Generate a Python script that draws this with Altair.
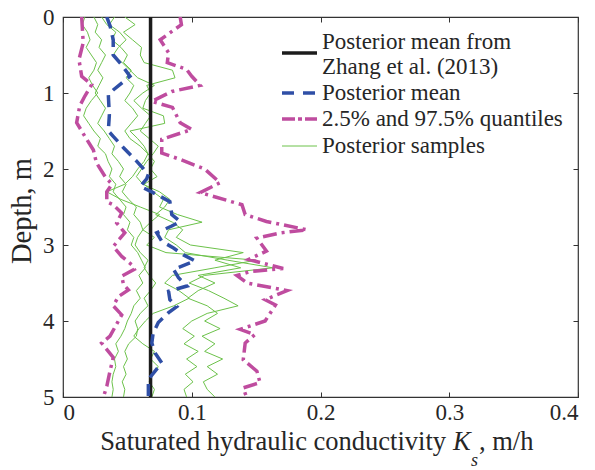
import altair as alt
import pandas as pd

SERIF = "Liberation Serif"

X_TICKS = [0, 0.1, 0.2, 0.3, 0.4]
Y_TICKS = [0, 1, 2, 3, 4, 5]

ZHANG_MEAN = [0.068]

MEAN_DEPTH = [0.0, 0.12, 0.3, 0.5, 0.63, 0.78, 0.87, 0.96, 1.02, 1.29, 1.5, 1.57, 1.72, 1.9,
              2.07, 2.13, 2.23, 2.29, 2.36, 2.43, 2.6, 2.69, 2.75, 2.84, 2.95, 3.04, 3.13, 3.21,
              3.32, 3.43, 3.54, 3.61, 3.72, 3.81, 3.89, 4.02, 4.16, 4.29, 4.42, 4.55, 4.66, 4.77, 5.0]
MEAN_K = [0.034, 0.0366, 0.039, 0.039, 0.0456, 0.052, 0.0456, 0.039, 0.0352, 0.036, 0.0352, 0.039,
          0.047, 0.0573, 0.0663, 0.065, 0.060, 0.0677, 0.0754, 0.083, 0.0845, 0.091, 0.0845, 0.0728,
          0.0767, 0.0858, 0.0936, 0.1026, 0.0858, 0.0897, 0.0962, 0.082, 0.083, 0.0884, 0.082, 0.074,
          0.070, 0.069, 0.0715, 0.0767, 0.0715, 0.0663, 0.0663]

LOW_DEPTH = [0.0, 0.34, 0.56, 0.78, 0.89, 1.04, 1.17, 1.39, 1.57, 1.75, 1.92, 2.1, 2.2, 2.3, 2.43,
             2.47, 2.58, 2.71, 2.84, 3.02, 3.15, 3.26, 3.32, 3.41, 3.52, 3.59, 3.68, 3.8, 3.92, 4.2,
             4.29, 4.48, 4.66, 4.86, 5.0]
LOW_K = [0.0145, 0.0157, 0.0124, 0.0145, 0.0223, 0.017, 0.013, 0.0106, 0.017, 0.0236, 0.026, 0.0327,
         0.038, 0.034, 0.034, 0.039, 0.0456, 0.0417, 0.048, 0.039, 0.0456, 0.0534, 0.0554, 0.0456,
         0.047, 0.0508, 0.043, 0.039, 0.0456, 0.0365, 0.030, 0.039, 0.0365, 0.034, 0.0314]

UP_DEPTH = [0.0, 0.1, 0.3, 0.47, 0.6, 0.69, 0.78, 0.9, 0.98, 1.11, 1.19, 1.39, 1.48, 1.61, 1.79,
            1.88, 2.0, 2.18, 2.31, 2.47, 2.6, 2.69, 2.8, 2.84, 2.91, 3.08, 3.19, 3.31, 3.35, 3.4,
            3.5, 3.6, 3.72, 3.79, 4.0, 4.05, 4.11, 4.18, 4.29, 4.51, 4.66, 4.81, 4.88, 5.0]
UP_K = [0.091, 0.092, 0.0755, 0.082, 0.081, 0.096, 0.100, 0.1065, 0.0845, 0.069, 0.085, 0.091, 0.100,
        0.0767, 0.0767, 0.092, 0.110, 0.122, 0.1065, 0.139, 0.1415, 0.158, 0.1895, 0.169, 0.1506,
        0.158, 0.1441, 0.171, 0.1455, 0.135, 0.143, 0.174, 0.157, 0.165, 0.157, 0.148, 0.1376, 0.149,
        0.1415, 0.140, 0.1506, 0.153, 0.140, 0.1425]

SAMPLE_DEPTH = [0.0, 0.1, 0.2, 0.3, 0.4, 0.5, 0.6, 0.7, 0.8, 0.9, 1.0, 1.1, 1.2, 1.3, 1.4, 1.5, 1.6,
                1.7, 1.8, 1.9, 2.0, 2.1, 2.2, 2.3, 2.4, 2.5, 2.6, 2.7, 2.8, 2.9, 3.0, 3.1, 3.2, 3.3,
                3.4, 3.5, 3.6, 3.7, 3.8, 3.9, 4.0, 4.1, 4.2, 4.3, 4.4, 4.5, 4.6, 4.7, 4.8, 4.9, 5.0]
SAMPLE_1 = [0.017, 0.015, 0.019, 0.021, 0.018, 0.022, 0.026, 0.024, 0.020, 0.023, 0.027, 0.022, 0.018,
            0.016, 0.020, 0.024, 0.029, 0.027, 0.033, 0.035, 0.038, 0.036, 0.041, 0.039, 0.044, 0.049,
            0.047, 0.052, 0.050, 0.055, 0.053, 0.058, 0.061, 0.064, 0.059, 0.062, 0.057, 0.060, 0.055,
            0.053, 0.050, 0.048, 0.045, 0.041, 0.043, 0.040, 0.041, 0.039, 0.038, 0.039, 0.038]
SAMPLE_2 = [0.024, 0.027, 0.025, 0.030, 0.028, 0.033, 0.030, 0.027, 0.031, 0.028, 0.025, 0.029, 0.033,
            0.030, 0.027, 0.032, 0.036, 0.040, 0.038, 0.043, 0.047, 0.044, 0.049, 0.046, 0.051, 0.057,
            0.055, 0.060, 0.062, 0.058, 0.056, 0.060, 0.066, 0.063, 0.067, 0.072, 0.068, 0.063, 0.066,
            0.060, 0.056, 0.058, 0.057, 0.051, 0.048, 0.050, 0.047, 0.049, 0.046, 0.048, 0.047]
SAMPLE_3 = [0.030, 0.034, 0.041, 0.038, 0.045, 0.050, 0.047, 0.053, 0.049, 0.055, 0.052, 0.048, 0.054,
            0.058, 0.053, 0.048, 0.052, 0.060, 0.066, 0.063, 0.058, 0.054, 0.048, 0.034, 0.045, 0.060,
            0.075, 0.068, 0.062, 0.071, 0.065, 0.080, 0.150, 0.118, 0.085, 0.079, 0.090, 0.098, 0.086,
            0.070, 0.064, 0.059, 0.055, 0.062, 0.071, 0.068, 0.074, 0.070, 0.067, 0.071, 0.069]
SAMPLE_4 = [0.048, 0.056, 0.047, 0.054, 0.061, 0.060, 0.063, 0.085, 0.087, 0.065, 0.068, 0.064, 0.062,
            0.078, 0.079, 0.052, 0.058, 0.063, 0.066, 0.071, 0.068, 0.073, 0.063, 0.070, 0.078, 0.075,
            0.089, 0.108, 0.082, 0.079, 0.088, 0.095, 0.128, 0.163, 0.110, 0.098, 0.113, 0.125, 0.136,
            0.112, 0.100, 0.093, 0.102, 0.094, 0.105, 0.096, 0.104, 0.095, 0.101, 0.094, 0.096]
SAMPLE_5 = [0.040, 0.036, 0.044, 0.049, 0.043, 0.039, 0.046, 0.052, 0.058, 0.071, 0.062, 0.055, 0.061,
            0.068, 0.064, 0.060, 0.067, 0.074, 0.070, 0.065, 0.061, 0.057, 0.062, 0.075, 0.083, 0.079,
            0.072, 0.085, 0.093, 0.088, 0.099, 0.140, 0.118, 0.138, 0.105, 0.118, 0.105, 0.097, 0.112,
            0.120, 0.110, 0.122, 0.108, 0.118, 0.110, 0.124, 0.112, 0.120, 0.109, 0.112, 0.118]

GREEN = "#6cc24a"
BLUE = "#2f4fa6"
MAGENTA = "#bf4c9f"
BLACK = "#1c1c1c"
TXT = "#262626"

W, H = 515, 380

samples = pd.concat([
    pd.DataFrame({"sample": f"s{i}", "depth": SAMPLE_DEPTH, "k": vals})
    for i, vals in enumerate([SAMPLE_1, SAMPLE_2, SAMPLE_3, SAMPLE_4, SAMPLE_5])
], ignore_index=True)
mean_df = pd.DataFrame({"depth": MEAN_DEPTH, "k": MEAN_K})
low_df = pd.DataFrame({"depth": LOW_DEPTH, "k": LOW_K})
up_df = pd.DataFrame({"depth": UP_DEPTH, "k": UP_K})
zhang_df = pd.DataFrame({"k": ZHANG_MEAN})

xs = alt.Scale(domain=[0, 0.4], nice=False, zero=False)
ys = alt.Scale(domain=[0, 5], reverse=True, nice=False, zero=False)


def tick_axis(orient, values):
    return alt.Axis(orient=orient, values=values, labels=False, ticks=True, tickSize=5,
                    tickColor="#333333", tickWidth=1, domain=False, grid=False, title=None,
                    offset=-5)


x_label_axis = alt.Axis(orient="bottom", values=X_TICKS, format="~g", labelFont=SERIF,
                        labelFontSize=23, labelColor=TXT, ticks=False, tickSize=0, domain=False,
                        grid=False, title=None, labelPadding=4)
y_label_axis = alt.Axis(orient="left", values=Y_TICKS, format="~g", labelFont=SERIF,
                        labelFontSize=23, labelColor=TXT, ticks=False, tickSize=0, domain=False,
                        grid=False, title=None, labelPadding=9)

samples_layer = alt.Chart(samples).mark_line(color=GREEN, strokeWidth=1, clip=True).encode(
    x=alt.X("k:Q", scale=xs, axis=x_label_axis),
    y=alt.Y("depth:Q", scale=ys, axis=y_label_axis),
    detail="sample:N",
    order="depth:Q",
)
zhang_layer = alt.Chart(zhang_df).mark_rule(color=BLACK, strokeWidth=3.5).encode(
    x=alt.X("k:Q", scale=xs, axis=None),
)
mean_layer = alt.Chart(mean_df).mark_line(color=BLUE, strokeWidth=3.5, strokeDash=[12, 7],
                                          clip=True).encode(
    x=alt.X("k:Q", scale=xs, axis=None),
    y=alt.Y("depth:Q", scale=ys, axis=None),
    order="depth:Q",
)
low_layer = alt.Chart(low_df).mark_line(color=MAGENTA, strokeWidth=3.5, strokeDash=[14, 5, 3, 5],
                                        clip=True).encode(
    x=alt.X("k:Q", scale=xs, axis=tick_axis("bottom", X_TICKS)),
    y=alt.Y("depth:Q", scale=ys, axis=tick_axis("left", Y_TICKS)),
    order="depth:Q",
)
up_layer = alt.Chart(up_df).mark_line(color=MAGENTA, strokeWidth=3.5, strokeDash=[14, 5, 3, 5],
                                      clip=True).encode(
    x=alt.X("k:Q", scale=xs, axis=tick_axis("top", X_TICKS)),
    y=alt.Y("depth:Q", scale=ys, axis=tick_axis("right", Y_TICKS)),
    order="depth:Q",
)

one = pd.DataFrame({"a": [0]})


def txt(s, x, y, size=23, align="left", baseline="middle", italic=False, angle=0):
    kw = dict(font=SERIF, fontSize=size, align=align, baseline=baseline, color=TXT, text=s)
    if italic:
        kw["fontStyle"] = "italic"
    if angle:
        kw["angle"] = angle
    return alt.Chart(one).mark_text(**kw).encode(x=alt.value(x), y=alt.value(y))


def legend_rule(x1, x2, y, color, width, dash=None):
    kw = dict(color=color, strokeWidth=width)
    if dash:
        kw["strokeDash"] = dash
    return alt.Chart(one).mark_rule(**kw).encode(x=alt.value(x1), x2=alt.value(x2), y=alt.value(y))


LX1, LX2, TX = 219, 254, 259
legend = [
    legend_rule(LX1, LX2, 36, BLACK, 3.5),
    txt("Posterior mean from", TX, 25),
    txt("Zhang et al. (2013)", TX, 50),
    legend_rule(LX1, LX2, 76, BLUE, 3.5, [12, 9]),
    txt("Posterior mean", TX, 76),
    legend_rule(LX1, LX2, 102, MAGENTA, 3.5, [13, 3, 4, 3]),
    txt("2.5% and 97.5% quantiles", TX, 102),
    legend_rule(LX1, LX2, 129, GREEN, 1),
    txt("Posterior samples", TX, 129),
]

titles = [
    txt("Saturated hydraulic conductivity", 383, 433, size=26.5, align="right", baseline="alphabetic"),
    txt("K", 390, 433, size=26.5, italic=True, baseline="alphabetic"),
    txt("s", 408, 449, size=18, italic=True, baseline="alphabetic"),
    txt(", m/h", 416, 433, size=26.5, baseline="alphabetic"),
    txt("Depth, m", -41, 194, size=28.5, align="center", angle=270),
]

chart = alt.layer(
    samples_layer, zhang_layer, mean_layer, low_layer, up_layer, *legend, *titles
).resolve_axis(x="independent", y="independent").properties(
    width=W, height=H,
    autosize=alt.AutoSizeParams(type="none"),
    padding={"left": 63, "top": 17, "right": 17, "bottom": 73},
).configure_view(stroke="#333333", strokeWidth=1.2)

chart.save("out.html", embed_options={"renderer": "svg", "actions": False})
